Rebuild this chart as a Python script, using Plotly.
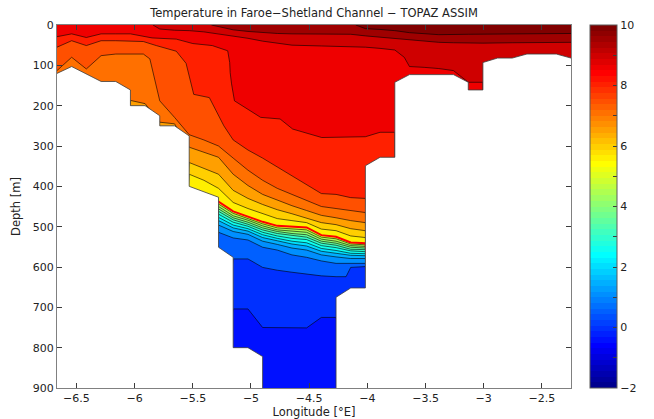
import plotly.graph_objects as go

# ---------------- data ----------------
title_text = "Temperature in Faroe\u2212Shetland Channel \u2212 TOPAZ ASSIM"
x_title = "Longitude [\u00b0E]"
y_title = "Depth [m]"
lon_range = [-6.667, -2.25]
depth_range = [900, 0]
x_ticks = [-6.5, -6, -5.5, -5, -4.5, -4, -3.5, -3, -2.5]
y_ticks = [0, 100, 200, 300, 400, 500, 600, 700, 800, 900]
t_min, t_max = -2, 10
cbar_ticks = list(range(-2, 11))

# isotherm depths (m) along longitude; region above each line is warmer than the level
iso_9p5_lon = [-6.667, -4.10, -4.017, -3.891, -3.764, -3.638, -3.512, -3.386, -3.133, -2.250]
iso_9p5_dep = [0, 0, 9, 11, 14, 19, 22, 24, 23, 21]

iso_9p0_lon = [-6.667, -5.34, -5.279, -5.153, -5.026, -4.900, -4.774, -4.648, -4.395, -4.143,
               -4.017, -3.891, -3.764, -3.638, -3.512, -3.386, -3.260, -3.007, -2.755, -2.250]
iso_9p0_dep = [0, 0, 4, 12, 16, 19, 21, 22, 22, 23, 27, 30, 33, 36, 40, 43, 44, 45, 44, 43]

iso_8p5_lon = [-6.667, -5.842, -5.784, -5.657, -5.531, -5.405, -5.279, -5.153, -5.026, -4.900,
               -4.774, -4.648, -4.395, -4.017, -3.891, -3.764, -3.683, -3.638, -3.512, -3.386,
               -3.260, -3.133, -3.007, -3.007, -2.250]
iso_8p5_dep = [0, 0, 10, 13, 14, 17, 22, 27, 33, 40, 45, 50, 52, 55, 58, 62, 80, 103, 105, 108,
               113, 142, 142, 900, 900]

iso_8p0_lon = [-6.667, -6.541, -6.415, -6.288, -6.162, -6.036, -5.850, -5.642, -5.500, -5.333,
               -5.200, -5.183, -5.179, -5.167, -5.142, -4.917, -4.750, -4.642, -4.392, -4.017,
               -3.891, -3.764, -3.764, -2.250]
iso_8p0_dep = [29, 22, 31, 22, 22, 22, 32, 35, 46, 51, 64, 93, 118, 146, 188, 229, 233, 258, 279,
               277, 266, 266, 900, 900]

iso_7p5_lon = [-6.667, -6.541, -6.415, -6.288, -6.162, -5.925, -5.814, -5.642, -5.558, -5.525,
               -5.492, -5.358, -5.233, -5.153, -5.026, -4.900, -4.774, -4.648, -4.522, -4.395,
               -4.269, -4.143, -4.017, -3.891, -2.250]
iso_7p5_dep = [55, 39, 51, 39, 39, 41, 51, 65, 95, 130, 172, 180, 250, 285, 310, 330, 352, 375,
               395, 418, 420, 428, 430, 900, 900]

iso_7p0_lon = [-6.667, -6.541, -6.415, -6.288, -6.162, -5.925, -5.869, -5.814, -5.784, -5.657,
               -5.564, -5.531, -5.405, -5.279, -5.153, -5.026, -4.900, -4.774, -4.648, -4.522,
               -4.395, -4.269, -4.143, -4.017, -3.891, -2.250]
iso_7p0_dep = [113, 80, 109, 76, 72, 72, 84, 155, 188, 229, 262, 272, 285, 300, 330, 360, 385,
               405, 420, 435, 450, 455, 460, 465, 900, 900]

iso_6p5_lon = [-6.667, -6.162, -6.036, -5.910, -5.784, -5.657, -5.531, -5.405, -5.279, -5.153,
               -5.026, -4.900, -4.774, -4.648, -4.522, -4.395, -4.269, -4.143, -4.017, -3.891, -2.250]
iso_6p5_dep = [900, 900, 187, 195, 241, 245, 303, 315, 328, 370, 398, 420, 435, 448, 460, 472,
               478, 485, 490, 900, 900]

slope_lon = [-6.667, -5.657, -5.531, -5.405, -5.279, -5.153, -5.026, -4.900, -4.774, -4.648,
             -4.522, -4.395, -4.269, -4.143, -4.017, -3.891, -2.250]
iso_6p0_dep = [900, 900, 341, 355, 370, 410, 430, 445, 458, 468, 478, 490, 495, 505, 510, 900, 900]
iso_5p5_dep = [900, 900, 370, 385, 405, 440, 455, 468, 480, 485, 490, 506, 510, 523, 527, 900, 900]
iso_5p0_dep = [900, 900, 410, 420, 438, 462, 475, 488, 498, 500, 502, 521, 525, 539, 541, 900, 900]

chan_lon = [-6.667, -5.405, -5.279, -5.153, -5.026, -4.900, -4.774, -4.648, -4.522, -4.395,
            -4.269, -4.143, -4.017, -3.891, -2.250]
iso_4p5_dep = [900, 900, 444, 467, 480, 493, 503, 506, 508, 526, 530, 543, 545, 900, 900]
iso_4p0_dep = [900, 900, 450, 473, 484, 498, 508, 511, 514, 531, 536, 547, 549, 900, 900]
iso_3p5_dep = [900, 900, 456, 478, 489, 503, 512, 517, 520, 536, 541, 551, 553, 900, 900]
iso_3p0_dep = [900, 900, 462, 483, 494, 508, 517, 522, 526, 541, 546, 556, 557, 900, 900]
iso_2p5_dep = [900, 900, 469, 489, 499, 514, 523, 529, 532, 547, 552, 560, 562, 900, 900]
iso_2p0_dep = [900, 900, 477, 496, 505, 520, 529, 536, 540, 554, 559, 566, 567, 900, 900]
iso_1p5_dep = [900, 900, 485, 503, 511, 527, 535, 543, 548, 561, 566, 571, 572, 900, 900]
iso_1p0_dep = [900, 900, 496, 512, 519, 536, 544, 553, 558, 570, 575, 579, 579, 900, 900]
iso_0p5_dep = [900, 900, 514, 528, 533, 551, 558, 570, 576, 585, 591, 591, 591, 900, 900]

iso_0p0_lon = [-6.667, -5.279, -5.153, -5.026, -4.900, -4.774, -4.648, -4.522, -4.395, -4.269,
               -4.183, -4.143, -4.017, -3.891, -2.250]
iso_0p0_dep = [900, 900, 580, 580, 601, 608, 613, 618, 622, 624, 624, 601, 599, 900, 900]

iso_m0p5_lon = [-6.667, -5.279, -5.153, -5.026, -4.900, -4.774, -4.648, -4.522, -4.395, -4.269,
                -4.143, -2.250]
iso_m0p5_dep = [900, 900, 704, 704, 750, 750, 750, 751, 725, 725, 900, 900]

# sea-floor (no data) outlines
land_left_lon = [-6.667, -6.541, -6.288, -6.162, -6.036, -6.036, -5.910, -5.784, -5.784, -5.657,
                 -5.531, -5.531, -5.279, -5.279, -5.153, -5.153, -5.026, -4.900, -4.900, -6.667]
land_left_dep = [120, 103, 140, 140, 161, 200, 200, 225, 250, 250, 275, 400, 427, 551, 576, 800,
                 800, 822, 900, 900]
land_right_lon = [-4.269, -4.269, -4.143, -4.017, -4.017, -3.891, -3.764, -3.764, -3.638, -3.260,
                  -3.133, -3.133, -3.007, -3.007, -2.881, -2.755, -2.629, -2.376, -2.250, -2.250]
land_right_dep = [900, 675, 652, 652, 349, 328, 328, 142, 123, 123, 142, 161, 161, 93, 82, 82,
                  72, 72, 82, 900]

highlight_level = 5.0

levels = [
    (-0.5, iso_m0p5_lon, iso_m0p5_dep),
    (0.0, iso_0p0_lon, iso_0p0_dep),
    (0.5, chan_lon, iso_0p5_dep),
    (1.0, chan_lon, iso_1p0_dep),
    (1.5, chan_lon, iso_1p5_dep),
    (2.0, chan_lon, iso_2p0_dep),
    (2.5, chan_lon, iso_2p5_dep),
    (3.0, chan_lon, iso_3p0_dep),
    (3.5, chan_lon, iso_3p5_dep),
    (4.0, chan_lon, iso_4p0_dep),
    (4.5, chan_lon, iso_4p5_dep),
    (5.0, slope_lon, iso_5p0_dep),
    (5.5, slope_lon, iso_5p5_dep),
    (6.0, slope_lon, iso_6p0_dep),
    (6.5, iso_6p5_lon, iso_6p5_dep),
    (7.0, iso_7p0_lon, iso_7p0_dep),
    (7.5, iso_7p5_lon, iso_7p5_dep),
    (8.0, iso_8p0_lon, iso_8p0_dep),
    (8.5, iso_8p5_lon, iso_8p5_dep),
    (9.0, iso_9p0_lon, iso_9p0_dep),
    (9.5, iso_9p5_lon, iso_9p5_dep),
]
step = 0.5


# ---------------- styling helpers ----------------
def jet64():
    u = [i / 16 for i in range(1, 17)] + [1.0] * 15 + [i / 16 for i in range(16, 0, -1)]
    R = [0.0] * 64
    G = [0.0] * 64
    B = [0.0] * 64
    for j, val in enumerate(u):
        g = 8 + j
        r = g + 16
        b = g - 16
        if 0 <= g < 64:
            G[g] = val
        if 0 <= r < 64:
            R[r] = val
        if 0 <= b < 64:
            B[b] = val
    return ['rgb(%d,%d,%d)' % (round(255 * R[i]), round(255 * G[i]), round(255 * B[i])) for i in range(64)]


JET = jet64()


def value_color(v):
    idx = int((v - t_min) / (t_max - t_min) * 64 + 1e-9)
    return JET[max(0, min(63, idx))]


def mask_surface(dep):
    out = []
    n = len(dep)
    for i, d in enumerate(dep):
        p = dep[i - 1] if i > 0 else d
        q = dep[i + 1] if i < n - 1 else d
        out.append(None if (d <= 0 and p <= 0 and q <= 0) else d)
    return out


FONT = "DejaVu Sans"
fig = go.Figure()

# filled temperature bands (painter's order, coldest first)
for lev, lon, dep in levels:
    fig.add_trace(go.Scatter(x=lon, y=dep, mode="lines", fill="tozeroy",
                             fillcolor=value_color(lev + step), line=dict(width=0, color="rgba(0,0,0,0)"),
                             hoverinfo="skip", showlegend=False))

# contour lines
for lev, lon, dep in levels:
    if lev == highlight_level:
        continue
    fig.add_trace(go.Scatter(x=lon, y=mask_surface(dep), mode="lines",
                             line=dict(width=0.6, color="black"),
                             hoverinfo="skip", showlegend=False))
for lev, lon, dep in levels:
    if lev == highlight_level:
        fig.add_trace(go.Scatter(x=lon, y=mask_surface(dep), mode="lines",
                                 line=dict(width=2, color="rgb(255,0,0)"),
                                 hoverinfo="skip", showlegend=False))

# sea floor (no data)
fig.add_trace(go.Scatter(x=land_left_lon + [None] + land_right_lon,
                         y=land_left_dep + [None] + land_right_dep,
                         mode="lines", fill="toself", fillcolor="white",
                         line=dict(width=0, color="rgba(0,0,0,0)"),
                         hoverinfo="skip", showlegend=False))
fig.add_trace(go.Scatter(x=land_left_lon[:-1] + [None] + land_right_lon[:-1],
                         y=land_left_dep[:-1] + [None] + land_right_dep[:-1],
                         mode="lines", line=dict(width=0.8, color="rgb(60,60,60)"),
                         hoverinfo="skip", showlegend=False))

# colorbar carrier
cscale = []
for i, c in enumerate(JET):
    cscale.append([i / 64, c])
    cscale.append([(i + 1) / 64, c])
cb_text = [(("\u2212%d" % -v) if v < 0 else "%d" % v) if v % 2 == 0 else "" for v in cbar_ticks]
cb_left_px = 607
cb_x = (cb_left_px - 57) / 530
fig.add_trace(go.Scatter(
    x=[lon_range[0]], y=[0], mode="markers", hoverinfo="skip", showlegend=False,
    marker=dict(size=1, opacity=0, color=[t_min], cmin=t_min, cmax=t_max, colorscale=cscale,
                showscale=True,
                colorbar=dict(thickness=27, thicknessmode="pixels", len=1, lenmode="fraction",
                              x=cb_x, xanchor="left", y=0.5, yanchor="middle",
                              xpad=0, ypad=0, outlinewidth=1, outlinecolor="rgb(90,90,90)",
                              tickmode="array", tickvals=cbar_ticks, ticktext=cb_text,
                              ticks="inside", ticklen=4, tickwidth=1, tickcolor="rgb(60,60,60)",
                              tickfont=dict(family=FONT, size=11, color="#222")))))

# matching tick marks on the left edge of the colour bar (labelled values)
shapes = []
for v in cbar_ticks:
    if v % 2 == 0 and t_min < v < t_max:
        yp = (v - t_min) / (t_max - t_min)
        shapes.append(dict(type="line", xref="paper", yref="paper",
                           x0=cb_x + 1 / 530, x1=cb_x + 5 / 530, y0=yp, y1=yp,
                           line=dict(color="rgb(60,60,60)", width=1)))

axis_common = dict(ticks="inside", ticklen=5, tickwidth=1, tickcolor="rgb(60,60,60)",
                   mirror="ticks", showline=True, linecolor="rgb(128,128,128)", linewidth=1,
                   showgrid=False, zeroline=False, automargin=False,
                   tickfont=dict(family=FONT, size=11, color="#222"))

fig.update_layout(
    width=654, height=419,
    margin=dict(l=57, r=67, t=25, b=31),
    paper_bgcolor="white",
    plot_bgcolor=value_color(-0.5),
    shapes=shapes,
    title=dict(text=title_text, x=0.5, xref="paper", xanchor="center",
               y=1 - 13 / 419, yref="container", yanchor="middle",
               font=dict(family=FONT, size=11.5, color="#222")),
    xaxis=dict(range=lon_range, tickmode="array", tickvals=x_ticks,
               title=dict(text=x_title, standoff=3, font=dict(family=FONT, size=11.5, color="#222")),
               **axis_common),
    yaxis=dict(range=depth_range, tickmode="array", tickvals=y_ticks,
               title=dict(text=y_title, standoff=9, font=dict(family=FONT, size=11.5, color="#222")),
               **axis_common),
)

fig.write_html("out.html")
